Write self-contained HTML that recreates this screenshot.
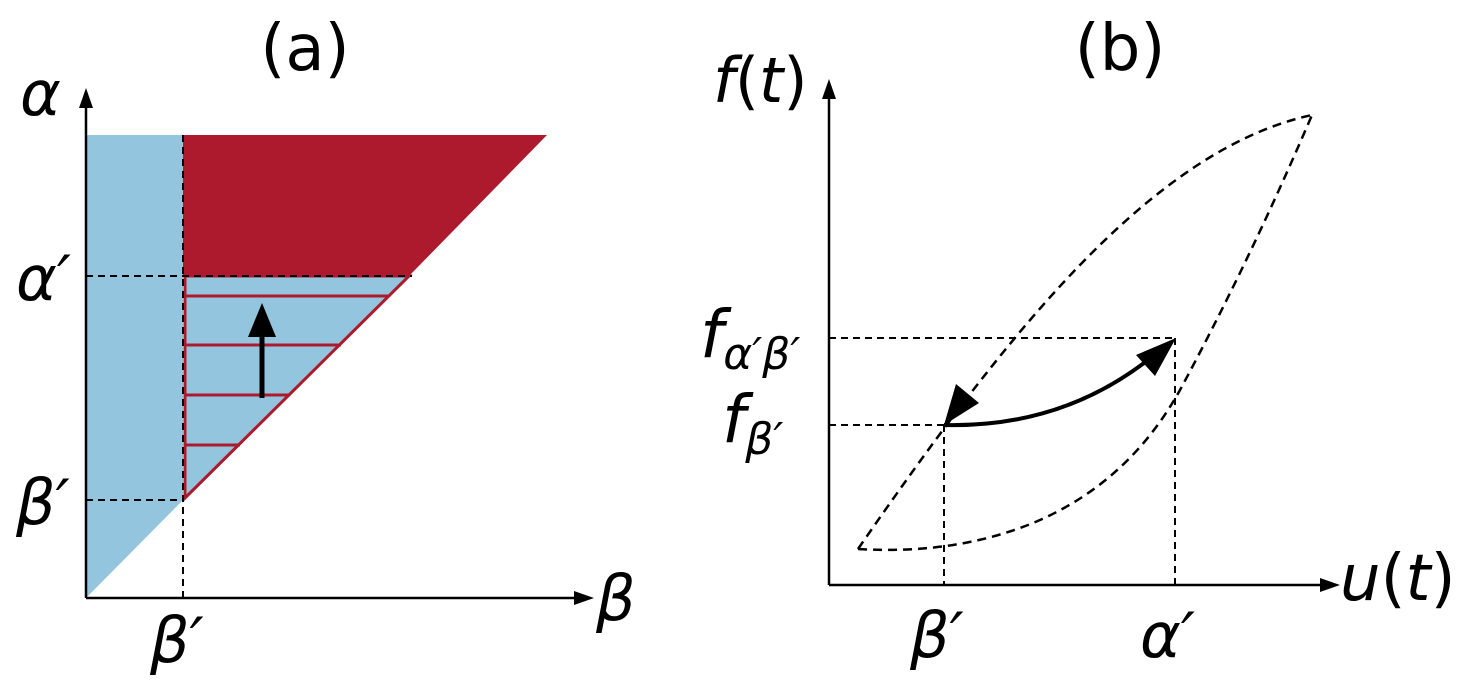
<!DOCTYPE html>
<html><head><meta charset="utf-8"><style>
html,body{margin:0;padding:0;background:#fff;}
svg{display:block;}
text{font-family:"DejaVu Sans","Liberation Sans",sans-serif;fill:#000;}
</style></head><body>
<svg width="1474" height="692" viewBox="0 0 1474 692" xmlns="http://www.w3.org/2000/svg">
<!-- panel a -->
<polygon points="86,135 183,135 183,500 86,598" fill="#93c5de"/>
<polygon points="183,135 547,135 409,276 183,276" fill="#ad1a2d"/>
<polygon points="185,276 409,276 185,498" fill="#93c5de" stroke="#ad1a2d" stroke-width="3"/>
<g stroke="#ad1a2d" stroke-width="3">
<line x1="185" y1="296" x2="389" y2="296"/>
<line x1="185" y1="345" x2="341" y2="345"/>
<line x1="185" y1="395" x2="290" y2="395"/>
<line x1="185" y1="445" x2="240" y2="445"/>
</g>
<g stroke="#000" stroke-width="2" stroke-dasharray="7,5" fill="none">
<line x1="183" y1="135" x2="183" y2="598"/>
<line x1="86" y1="276" x2="412" y2="276"/>
<line x1="86" y1="500" x2="183" y2="500"/>
</g>
<line x1="262" y1="398" x2="262" y2="335" stroke="#000" stroke-width="5"/>
<polygon points="262,303 248,337 276,337" fill="#000"/>
<line x1="86" y1="598" x2="86" y2="100" stroke="#000" stroke-width="2.5"/>
<polygon points="86,88 79,108 93,108" fill="#000"/>
<line x1="86" y1="598" x2="580" y2="598" stroke="#000" stroke-width="2.5"/>
<polygon points="594,598 574,591 574,605" fill="#000"/>
<text x="305" y="70" font-size="64" text-anchor="middle">(a)</text>
<text x="20" y="115" font-size="62" font-style="italic">α</text>
<text x="16" y="300" font-size="62" font-style="italic">α′</text>
<text x="16" y="524" font-size="62" font-style="italic">β′</text>
<text x="596" y="620" font-size="62" font-style="italic">β</text>
<text x="150" y="662" font-size="62" font-style="italic">β′</text>
<!-- panel b -->
<g stroke="#000" stroke-width="2" stroke-dasharray="7,5" fill="none">
<line x1="829" y1="338" x2="1175" y2="338"/>
<line x1="829" y1="425" x2="944" y2="425"/>
<line x1="944" y1="425" x2="944" y2="585"/>
<line x1="1175" y1="338" x2="1175" y2="585"/>
</g>
<g stroke="#000" stroke-width="2.5" stroke-dasharray="9,6" fill="none">
<path d="M858,549 C1004,338 1150,150 1312,115"/>
<path d="M858,549 Q960,555 1040,520 Q1130,480 1180,390 Q1250,260 1312,115"/>
</g>
<path d="M944,425 Q1060,428 1148,360" stroke="#000" stroke-width="4" fill="none"/>
<polygon points="1176,338 1136,355 1155,376" fill="#000"/>
<polygon points="944,425 956,384 979,403" fill="#000"/>
<line x1="829" y1="585" x2="829" y2="92" stroke="#000" stroke-width="2.5"/>
<polygon points="829,79 822,99 836,99" fill="#000"/>
<line x1="829" y1="585" x2="1325" y2="585" stroke="#000" stroke-width="2.5"/>
<polygon points="1340,585 1320,578 1320,592" fill="#000"/>
<text x="1120" y="70" font-size="64" text-anchor="middle">(b)</text>
<text x="713" y="102" font-size="62" font-style="italic">f<tspan font-style="normal">(</tspan>t<tspan font-style="normal">)</tspan></text>
<text x="700" y="357" font-size="66" font-style="italic">f<tspan font-size="44" dy="12">α′β′</tspan></text>
<text x="722" y="442" font-size="66" font-style="italic">f<tspan font-size="44" dy="12">β′</tspan></text>
<text x="1340" y="600" font-size="64" font-style="italic">u<tspan font-style="normal">(</tspan>t<tspan font-style="normal">)</tspan></text>
<text x="910" y="657" font-size="62" font-style="italic">β′</text>
<text x="1140" y="657" font-size="62" font-style="italic">α′</text>
</svg>
</body></html>
